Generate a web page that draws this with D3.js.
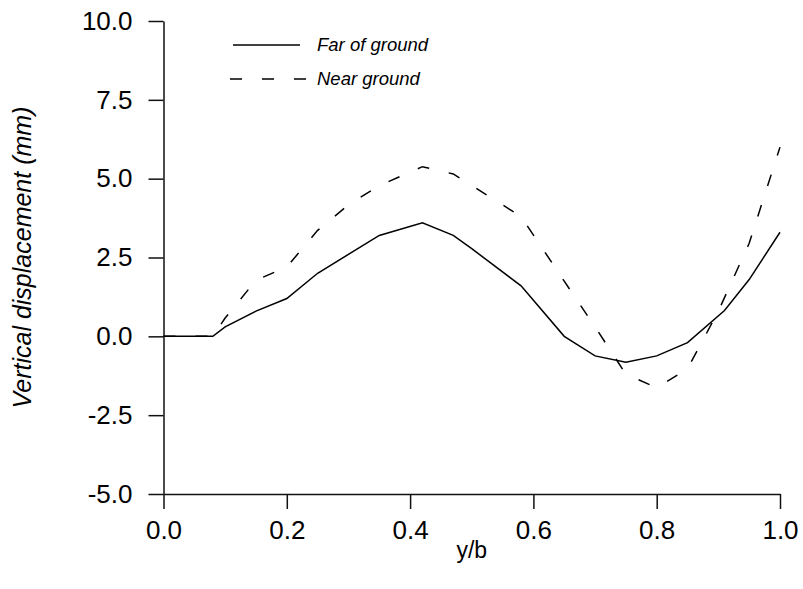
<!DOCTYPE html>
<html>
<head>
<meta charset="utf-8">
<script src="https://cdn.jsdelivr.net/npm/d3@7/dist/d3.min.js"></script>
<style>
body { margin: 0; background: #fff; }
text { font-family: "Liberation Sans", Arial, sans-serif; fill: #000; }
</style>
</head>
<body>
<script>
// y/b positions and vertical displacement (mm)
var farX = [0, 0.08, 0.1, 0.15, 0.2, 0.25, 0.35, 0.42, 0.47, 0.5, 0.58, 0.65, 0.7, 0.75, 0.8, 0.85, 0.91, 0.95, 1.0];
var farY = [0, 0, 0.3, 0.8, 1.2, 2.0, 3.2, 3.6, 3.2, 2.78, 1.6, 0, -0.62, -0.82, -0.62, -0.2, 0.82, 1.8, 3.3];
var nearX = [0, 0.08, 0.1, 0.15, 0.2, 0.25, 0.3, 0.35, 0.42, 0.47, 0.58, 0.65, 0.7, 0.75, 0.8, 0.85, 0.9, 0.95, 1.0];
var nearY = [0, 0, 0.58, 1.78, 2.2, 3.36, 4.17, 4.78, 5.38, 5.15, 3.8, 1.75, 0.3, -1.2, -1.63, -1.03, 0.8, 2.95, 6.0];
var seriesNames = ["Far of ground", "Near ground"];
var xTicks = [0, 0.2, 0.4, 0.6, 0.8, 1.0];
var yTicks = [-5, -2.5, 0, 2.5, 5, 7.5, 10];

var W = 803, H = 589;
var svg = d3.select("body").append("svg")
  .attr("width", W)
  .attr("height", H);

var x = d3.scaleLinear().domain([0, 1]).range([163.5, 780]);
var y = d3.scaleLinear().domain([-5, 10]).range([494, 21]);

// plain hyphen for negatives, like the original
var fmt = function(d) { return d.toFixed(1); };

svg.append("g")
  .attr("transform", "translate(0," + y(-5) + ")")
  .call(d3.axisBottom(x).tickValues(xTicks).tickSize(15).tickSizeOuter(0).tickPadding(12).tickFormat(fmt));

svg.append("g")
  .attr("transform", "translate(" + x(0) + ",0)")
  .call(d3.axisLeft(y).tickValues(yTicks).tickSize(15).tickSizeOuter(0).tickPadding(16).tickFormat(fmt));

svg.selectAll(".domain, .tick line")
  .attr("stroke", "#111")
  .attr("stroke-width", 1.5);
svg.selectAll(".tick text")
  .style("font-size", "26px");

// axis titles
svg.append("text")
  .attr("x", (x(0) + x(1)) / 2)
  .attr("y", 558)
  .attr("text-anchor", "middle")
  .style("font-size", "23px")
  .text("y/b");

svg.append("text")
  .attr("transform", "translate(31," + ((y(-5) + y(10)) / 2) + ") rotate(-90)")
  .attr("text-anchor", "middle")
  .style("font-size", "25px")
  .style("font-style", "italic")
  .text("Vertical displacement (mm)");

var line = d3.line()
  .x(function(d) { return x(d[0]); })
  .y(function(d) { return y(d[1]); });

var far = d3.zip(farX, farY);
var near = d3.zip(nearX, nearY);

svg.append("path")
  .datum(far)
  .attr("fill", "none")
  .attr("stroke", "#000")
  .attr("stroke-width", 1.5)
  .attr("d", line);

svg.append("path")
  .datum(near)
  .attr("fill", "none")
  .attr("stroke", "#000")
  .attr("stroke-width", 1.5)
  .attr("stroke-dasharray", "12,20")
  .attr("d", line);

// legend
var legend = svg.append("g");
var dashes = [null, "12,20"];
var legendX = [[233, 300], [230, 306]];
seriesNames.forEach(function(name, i) {
  var ly = 45 + i * 34;
  legend.append("line")
    .attr("x1", legendX[i][0]).attr("x2", legendX[i][1])
    .attr("y1", ly).attr("y2", ly)
    .attr("stroke", "#000")
    .attr("stroke-width", 1.5)
    .attr("stroke-dasharray", dashes[i]);
  legend.append("text")
    .attr("x", 317)
    .attr("y", ly + 6)
    .style("font-size", "18.5px")
    .style("font-style", "italic")
    .text(name);
});
</script>
</body>
</html>
